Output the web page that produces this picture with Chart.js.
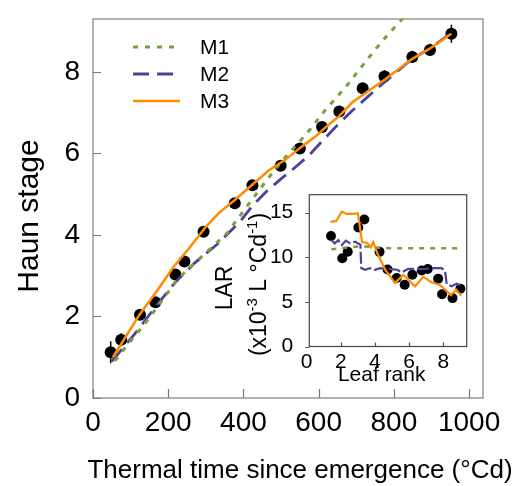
<!DOCTYPE html>
<html><head><meta charset="utf-8">
<script src="https://cdn.jsdelivr.net/npm/chart.js@4.4.0/dist/chart.umd.min.js"></script>
<style>
html,body{margin:0;padding:0;background:#fff;}
#wrap{position:relative;width:520px;height:486px;overflow:hidden;}
#main{position:absolute;left:0;top:0;}
#inset{position:absolute;left:200px;top:180px;}
</style></head><body>
<div id="wrap"><canvas id="main" width="520" height="486"></canvas><canvas id="inset" width="275" height="210"></canvas></div>
<script>
// ---------- Main panel data ----------
const xTickValues = [0, 200, 400, 600, 800, 1000];
const yTickValues = [0, 2, 4, 6, 8];
const obsTT   = [47, 75, 125, 166, 219, 243, 294, 377, 424, 499, 550, 609, 655, 717, 775, 849, 896, 953];
const obsHaun = [1.12, 1.43, 2.04, 2.35, 3.03, 3.35, 4.08, 4.78, 5.22, 5.70, 6.12, 6.65, 7.03, 7.60, 7.89, 8.37, 8.54, 8.94];
const obsErr  = [0.27, 0.16, 0.12, 0.12, 0.12, 0.12, 0.12, 0.12, 0.12, 0.12, 0.12, 0.12, 0.12, 0.12, 0.15, 0.15, 0.15, 0.22];
const m1TT   = [58, 93, 137, 181, 225, 270, 314, 358, 397, 450, 485, 520, 565, 618, 671, 720, 770, 825];
const m1Haun = [0.91, 1.32, 1.81, 2.36, 2.92, 3.31, 3.68, 4.06, 4.55, 5.2, 5.62, 6.0, 6.45, 7.07, 7.62, 8.2, 8.77, 9.33];
const m2TT   = [50, 110, 164, 217, 270, 331, 393, 424, 459, 503, 530, 574, 609, 645, 689, 750, 794, 847, 900, 953];
const m2Haun = [0.9, 1.56, 2.21, 2.82, 3.31, 3.78, 4.35, 4.72, 5.05, 5.4, 5.6, 5.95, 6.3, 6.65, 7.05, 7.55, 7.9, 8.31, 8.6, 8.96];
const m3TT   = [53, 124, 168, 212, 256, 300, 336, 377, 424, 468, 512, 552, 592, 627, 654, 689, 733, 777, 847, 900, 953];
const m3Haun = [1.0, 2.05, 2.6, 3.19, 3.68, 4.2, 4.55, 4.86, 5.24, 5.59, 5.85, 6.15, 6.42, 6.71, 6.91, 7.25, 7.54, 7.82, 8.31, 8.6, 8.94];
const seriesNames = ['M1', 'M2', 'M3'];

// ---------- Inset data ----------
const insetXTicks = [0, 2, 4, 6, 8];
const insetYTicks = [0, 5, 10, 15];
const leafRank = [1.43, 2.09, 2.41, 3.03, 3.38, 4.27, 4.74, 5.27, 5.74, 6.19, 6.74, 7.09, 7.7, 7.93, 8.54, 9.0];
const larObs   = [12.37, 9.89, 10.62, 13.33, 14.22, 10.6, 8.63, 7.67, 6.92, 8.03, 8.51, 8.67, 7.6, 5.85, 5.42, 6.48];
const im1Rank = [1.45, 2.0, 2.5, 3.0, 3.5, 4.0, 5.0, 6.0, 7.0, 8.0, 9.1];
const im1LAR  = [10.9, 11.0, 11.1, 11.2, 11.2, 11.1, 11.0, 11.0, 11.0, 11.0, 11.0];
const im2Rank = [1.45, 1.65, 1.86, 2.06, 2.3, 2.55, 2.84, 3.05, 3.15, 3.2, 3.42, 3.71, 4.0, 4.3, 4.6, 4.97, 5.3, 5.56, 5.95, 6.54, 7.0, 7.32, 7.9, 8.1, 8.2, 8.49, 8.78, 9.1];
const im2LAR  = [11.92, 11.55, 11.92, 11.36, 11.85, 11.55, 11.73, 11.5, 11.4, 8.8, 8.6, 8.78, 8.59, 8.78, 8.7, 8.67, 8.6, 8.3, 8.7, 8.67, 8.7, 8.78, 8.78, 8.45, 7.0, 6.74, 7.04, 6.74];
const im3Rank = [1.4, 1.75, 2.06, 2.35, 2.65, 3.0, 3.25, 3.55, 3.75, 3.9, 4.15, 4.6, 5.18, 5.66, 6.35, 6.83, 7.32, 7.81, 8.45, 8.75, 9.05];
const im3LAR  = [13.96, 14.07, 15.1, 14.85, 14.85, 14.9, 11.7, 11.6, 11.1, 11.7, 10.4, 8.6, 7.1, 8.04, 6.74, 7.8, 7.2, 6.9, 5.75, 6.37, 5.7];

const FONT = "'Liberation Sans', Arial, Helvetica, sans-serif";
const GREEN = '#78A03C', PURPLE = '#50409A', ORANGE = '#FF8C00';
const toXY = (xs, ys) => xs.map((x, i) => ({x: x, y: ys[i]}));
const plainLabel = v => String(v);
const noPad = s => { s.paddingTop = 0; s.paddingBottom = 0; s.paddingLeft = 0; s.paddingRight = 0; };

function frameAndTicks(cfg) {
  return {
    id: 'frameAndTicks',
    beforeDatasetsDraw(chart) {
      const {ctx, chartArea: a, scales} = chart;
      ctx.save();
      ctx.fillStyle = '#fff';
      ctx.fillRect(a.left, a.top, a.right - a.left, a.bottom - a.top);
      ctx.strokeStyle = cfg.frameColor;
      ctx.lineWidth = cfg.frameWidth;
      ctx.strokeRect(a.left, a.top, a.right - a.left, a.bottom - a.top);
      ctx.strokeStyle = cfg.tickColor;
      ctx.lineWidth = 1.2;
      ctx.beginPath();
      scales.x.ticks.forEach(t => {
        if (t.value < scales.x.min || t.value > scales.x.max) return;
        const px = Math.round(scales.x.getPixelForValue(t.value)) + 0.5;
        ctx.moveTo(px, a.bottom); ctx.lineTo(px, a.bottom - cfg.xTickLen);
      });
      scales.y.ticks.forEach(t => {
        if (t.value < scales.y.min || t.value > scales.y.max) return;
        const py = Math.round(scales.y.getPixelForValue(t.value)) + 0.5;
        ctx.moveTo(a.left, py); ctx.lineTo(a.left + cfg.yTickLen, py);
      });
      ctx.stroke();
      chart.data.datasets.forEach(ds => {
        if (!ds.errors) return;
        ctx.strokeStyle = '#000'; ctx.lineWidth = 1.5;
        ctx.beginPath();
        ds.data.forEach((p, i) => {
          const px = scales.x.getPixelForValue(p.x);
          ctx.moveTo(px, scales.y.getPixelForValue(p.y - ds.errors[i]));
          ctx.lineTo(px, scales.y.getPixelForValue(p.y + ds.errors[i]));
        });
        ctx.stroke();
      });
      ctx.restore();
    }
  };
}

const mainText = {
  id: 'mainText',
  afterDraw(chart) {
    const ctx = chart.ctx;
    ctx.save();
    ctx.fillStyle = '#000';
    ctx.textBaseline = 'middle';
    ctx.textAlign = 'center';
    ctx.font = '26px ' + FONT;
    ctx.fillText('Thermal time since emergence (°Cd)', 300, 471);
    ctx.save();
    ctx.translate(30, 216);
    ctx.rotate(-Math.PI / 2);
    ctx.font = '30px ' + FONT;
    ctx.fillText('Haun stage', 0, 0);
    ctx.restore();
    const ys = [47, 74, 101];
    chart.data.datasets.slice(0, 3).forEach((ds, i) => {
      ctx.strokeStyle = ds.borderColor;
      ctx.lineWidth = ds.borderWidth;
      ctx.setLineDash(ds.borderDash || []);
      ctx.beginPath();
      ctx.moveTo(133, ys[i]); ctx.lineTo(180, ys[i]);
      ctx.stroke();
      ctx.setLineDash([]);
      ctx.textAlign = 'left';
      ctx.font = '21px ' + FONT;
      ctx.fillText(ds.label, 200, ys[i] + 1);
    });
    ctx.restore();
  }
};

new Chart(document.getElementById('main'), {
  type: 'scatter',
  data: { datasets: [
    {label: seriesNames[0], data: toXY(m1TT, m1Haun), showLine: true, borderColor: GREEN, borderWidth: 3, borderDash: [5, 7], pointRadius: 0, order: 1},
    {label: seriesNames[1], data: toXY(m2TT, m2Haun), showLine: true, borderColor: PURPLE, borderWidth: 2.8, borderDash: [16, 8], pointRadius: 0, order: 2},
    {label: seriesNames[2], data: toXY(m3TT, m3Haun), showLine: true, borderColor: ORANGE, borderWidth: 2.5, pointRadius: 0, order: 0},
    {label: 'Observed', data: toXY(obsTT, obsHaun), errors: obsErr, showLine: false, pointRadius: 6, pointBackgroundColor: '#000', pointBorderWidth: 0, order: 5}
  ]},
  options: {
    responsive: false, animation: false, devicePixelRatio: 1,
    layout: {padding: {top: 19, right: 37, left: 0, bottom: 0}},
    plugins: {legend: {display: false}, tooltip: {enabled: false}},
    scales: {
      x: {type: 'linear', min: 0, max: 1037,
        afterBuildTicks: s => { s.ticks = xTickValues.map(v => ({value: v})); },
        afterFit: s => { s.height = 486 - 398; noPad(s); },
        grid: {display: false, drawTicks: false}, border: {display: false},
        ticks: {font: {family: FONT, size: 28}, color: '#000', padding: 8, maxRotation: 0, autoSkip: false, callback: plainLabel}},
      y: {type: 'linear', min: 0, max: 9.3,
        afterBuildTicks: s => { s.ticks = yTickValues.map(v => ({value: v})); },
        afterFit: s => { s.width = 93; noPad(s); },
        grid: {display: false, drawTicks: false}, border: {display: false},
        ticks: {font: {family: FONT, size: 28}, color: '#000', padding: 13, autoSkip: false, callback: plainLabel}}
    }
  },
  plugins: [frameAndTicks({frameColor: '#999', frameWidth: 1.5, tickColor: '#777', xTickLen: 9, yTickLen: 8}), mainText]
});

// ---------- Inset ----------
const insetText = {
  id: 'insetText',
  afterDraw(chart) {
    const ctx = chart.ctx;
    const a = chart.chartArea, sy = chart.scales.y;
    ctx.save();
    ctx.fillStyle = '#000';
    ctx.strokeStyle = '#555';
    ctx.lineWidth = 1.2;
    ctx.beginPath();
    insetYTicks.forEach(v => {
      const py = Math.round(sy.getPixelForValue(v)) + 0.5;
      ctx.moveTo(a.left - 4, py); ctx.lineTo(a.left, py);
    });
    ctx.stroke();
    ctx.textBaseline = 'middle';
    ctx.textAlign = 'center';
    ctx.font = '21px ' + FONT;
    ctx.fillText('Leaf rank', 181.7, 195);
    ctx.save();
    ctx.translate(26, 108);
    ctx.rotate(-Math.PI / 2);
    ctx.font = '23px ' + FONT;
    ctx.fillText('LAR', 0, 0);
    ctx.restore();
    ctx.save();
    ctx.translate(58, 104.5);
    ctx.rotate(-Math.PI / 2);
    const parts = [['(x10', 0], ['-3', 1], [' L °Cd', 0], ['-1', 1], [')', 0]];
    const big = '23px ' + FONT, small = '15px ' + FONT;
    let total = 0;
    parts.forEach(p => { ctx.font = p[1] ? small : big; total += ctx.measureText(p[0]).width; });
    let x = -total / 2;
    ctx.textAlign = 'left';
    ctx.textBaseline = 'alphabetic';
    parts.forEach(p => {
      ctx.font = p[1] ? small : big;
      ctx.fillText(p[0], x, p[1] ? -1 : 8);
      x += ctx.measureText(p[0]).width;
    });
    ctx.restore();
    ctx.restore();
  }
};

new Chart(document.getElementById('inset'), {
  type: 'scatter',
  data: { datasets: [
    {label: seriesNames[0], data: toXY(im1Rank, im1LAR), showLine: true, borderColor: GREEN, borderWidth: 2.5, borderDash: [5, 6], pointRadius: 0, order: 1},
    {label: seriesNames[1], data: toXY(im2Rank, im2LAR), showLine: true, borderColor: PURPLE, borderWidth: 2.2, borderDash: [12, 3], pointRadius: 0, order: 2},
    {label: seriesNames[2], data: toXY(im3Rank, im3LAR), showLine: true, borderColor: ORANGE, borderWidth: 2.2, pointRadius: 0, order: 0},
    {label: 'Observed', data: toXY(leafRank, larObs), showLine: false, pointRadius: 5, pointBackgroundColor: '#000', pointBorderWidth: 0, order: 5}
  ]},
  options: {
    responsive: false, animation: false, devicePixelRatio: 1,
    layout: {padding: {top: 14.7, right: 8.3, left: 0, bottom: 0}},
    plugins: {legend: {display: false}, tooltip: {enabled: false}},
    scales: {
      x: {type: 'linear', min: 0.16, max: 9.37,
        afterBuildTicks: s => { s.ticks = insetXTicks.map(v => ({value: v})); },
        afterFit: s => { s.height = 210 - 166.5; noPad(s); },
        grid: {display: false, drawTicks: false}, border: {display: false},
        ticks: {font: {family: FONT, size: 21}, color: '#000', padding: 3, maxRotation: 0, autoSkip: false, callback: plainLabel}},
      y: {type: 'linear', min: 0, max: 17,
        afterBuildTicks: s => { s.ticks = insetYTicks.map(v => ({value: v})); },
        afterFit: s => { s.width = 109.3; noPad(s); },
        grid: {display: false, drawTicks: false}, border: {display: false},
        ticks: {font: {family: FONT, size: 21}, color: '#000', padding: 16, autoSkip: false, callback: plainLabel}}
    }
  },
  plugins: [frameAndTicks({frameColor: '#444', frameWidth: 1.2, tickColor: '#555', xTickLen: 4, yTickLen: 0}), insetText]
});
</script>
</body></html>
